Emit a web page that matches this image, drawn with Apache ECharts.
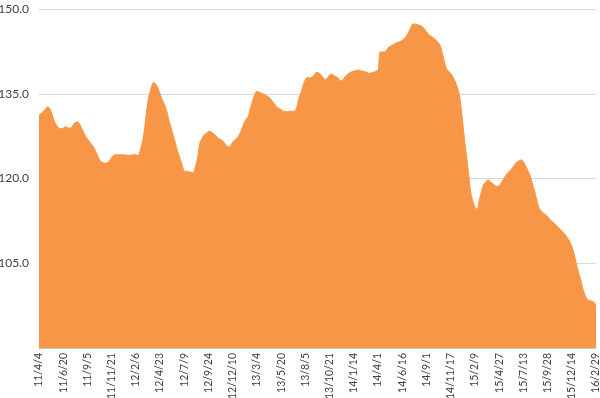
<!DOCTYPE html>
<html>
<head>
<meta charset="utf-8">
<script src="https://cdn.jsdelivr.net/npm/echarts@6/dist/echarts.min.js"></script>
<style>
  html, body { margin: 0; padding: 0; background: #fff; }
  #grafico { width: 600px; height: 398px; }
</style>
</head>
<body>
<div id="grafico"></div>
<script>
// etichette asse X (una ogni 11 settimane)
const etichette = ['11/4/4', '11/6/20', '11/9/5', '11/11/21', '12/2/6', '12/4/23', '12/7/9', '12/9/24',
  '12/12/10', '13/3/4', '13/5/20', '13/8/5', '13/10/21', '14/1/14', '14/4/1', '14/6/16', '14/9/1',
  '14/11/17', '15/2/9', '15/4/27', '15/7/13', '15/9/28', '15/12/14', '16/2/29'];
const passo = 11;

// valori settimanali
const valori = [
  131.2, 131.5, 131.9, 132.3, 132.7, 132.3, 131.3, 130.1, 129.4, 128.9,
  128.8, 128.9, 129.2, 129.0, 128.9, 129.1, 129.8, 130.0, 129.9, 129.2,
  128.3, 127.6, 127.0, 126.5, 126.0, 125.4, 124.6, 123.7, 123.0, 122.8,
  122.7, 122.8, 123.1, 123.7, 124.1, 124.2, 124.2, 124.2, 124.2, 124.2,
  124.1, 124.1, 124.2, 124.2, 124.2, 124.1, 125.0, 126.5, 129.0, 132.4,
  134.7, 136.1, 137.0, 136.7, 136.0, 135.0, 133.9, 133.1, 132.0, 130.3,
  129.0, 127.6, 126.2, 124.8, 123.6, 122.4, 121.3, 121.2, 121.2, 121.1,
  121.0, 122.0, 123.6, 126.2, 127.1, 127.7, 128.0, 128.3, 128.3, 128.0,
  127.7, 127.3, 127.0, 126.8, 126.4, 125.9, 125.6, 125.7, 126.5, 126.8,
  127.2, 127.8, 128.6, 129.7, 130.5, 130.9, 132.4, 133.7, 134.9, 135.4,
  135.3, 135.1, 134.9, 134.7, 134.5, 134.2, 133.7, 133.2, 132.7, 132.4,
  132.2, 131.9, 131.9, 131.8, 131.9, 131.9, 131.9, 132.5, 134.1, 135.2,
  136.5, 137.5, 137.9, 137.8, 137.9, 138.3, 138.8, 138.7, 138.4, 137.9,
  137.5, 137.8, 138.3, 138.5, 138.2, 138.0, 137.7, 137.3, 137.5, 138.0,
  138.4, 138.7, 138.9, 139.0, 139.1, 139.2, 139.1, 139.0, 138.9, 138.8,
  138.6, 138.7, 138.8, 139.0, 139.2, 142.4, 142.4, 142.4, 142.8, 143.3,
  143.5, 143.7, 144.0, 144.1, 144.2, 144.5, 144.8, 145.3, 146.0, 146.8,
  147.4, 147.3, 147.2, 147.1, 146.9, 146.5, 146.0, 145.5, 145.2, 144.9,
  144.6, 144.2, 143.7, 142.5, 140.9, 139.5, 139.0, 138.6, 138.0, 137.2,
  136.2, 134.7, 131.6, 127.9, 124.5, 121.3, 117.8, 116.0, 115.0, 114.5,
  116.2, 117.7, 119.0, 119.4, 119.8, 119.4, 119.1, 118.8, 118.6, 118.7,
  119.3, 119.9, 120.5, 121.0, 121.4, 121.9, 122.4, 122.9, 123.1, 123.3,
  123.0, 122.3, 121.4, 120.6, 119.3, 117.9, 116.4, 114.9, 114.3, 113.9,
  113.6, 113.3, 112.8, 112.4, 112.1, 111.7, 111.3, 110.9, 110.5, 110.1,
  109.5, 108.9, 108.0, 106.7, 105.0, 103.5, 102.2, 100.5, 99.4, 98.6,
  98.4, 98.3, 98.1, 97.6
];

const settimane = valori.map((v, i) => i);

var grafico = echarts.init(document.getElementById('grafico'));
var option = {
  animation: false,
  grid: { left: 39, right: 4, top: 9, bottom: 50, containLabel: false, outerBoundsMode: 'none' },
  xAxis: {
    type: 'category',
    boundaryGap: false,
    data: settimane,
    axisLine: { lineStyle: { color: '#c8c8c8', type: 'dotted' } },
    axisTick: { show: false },
    axisLabel: {
      interval: passo - 1,
      rotate: 90,
      margin: 5,
      color: '#404040',
      fontFamily: 'Lato',
      fontSize: 10.5,
      formatter: (v, idx) => etichette[Math.round(idx / passo)]
    }
  },
  yAxis: {
    type: 'value',
    min: 90,
    max: 150,
    interval: 15,
    axisLine: { show: false },
    axisTick: { show: false },
    splitLine: { lineStyle: { color: '#d9d9d9' } },
    axisLabel: {
      showMinLabel: false,
      margin: 10,
      color: '#404040',
      fontFamily: 'Lato',
      fontSize: 12,
      formatter: v => v.toFixed(1)
    }
  },
  series: [{
    type: 'line',
    data: valori,
    smooth: 0.3,
    showSymbol: false,
    lineStyle: { color: '#F79646', width: 1 },
    areaStyle: { color: '#F79646', opacity: 1 }
  }]
};
grafico.setOption(option);
</script>
</body>
</html>
